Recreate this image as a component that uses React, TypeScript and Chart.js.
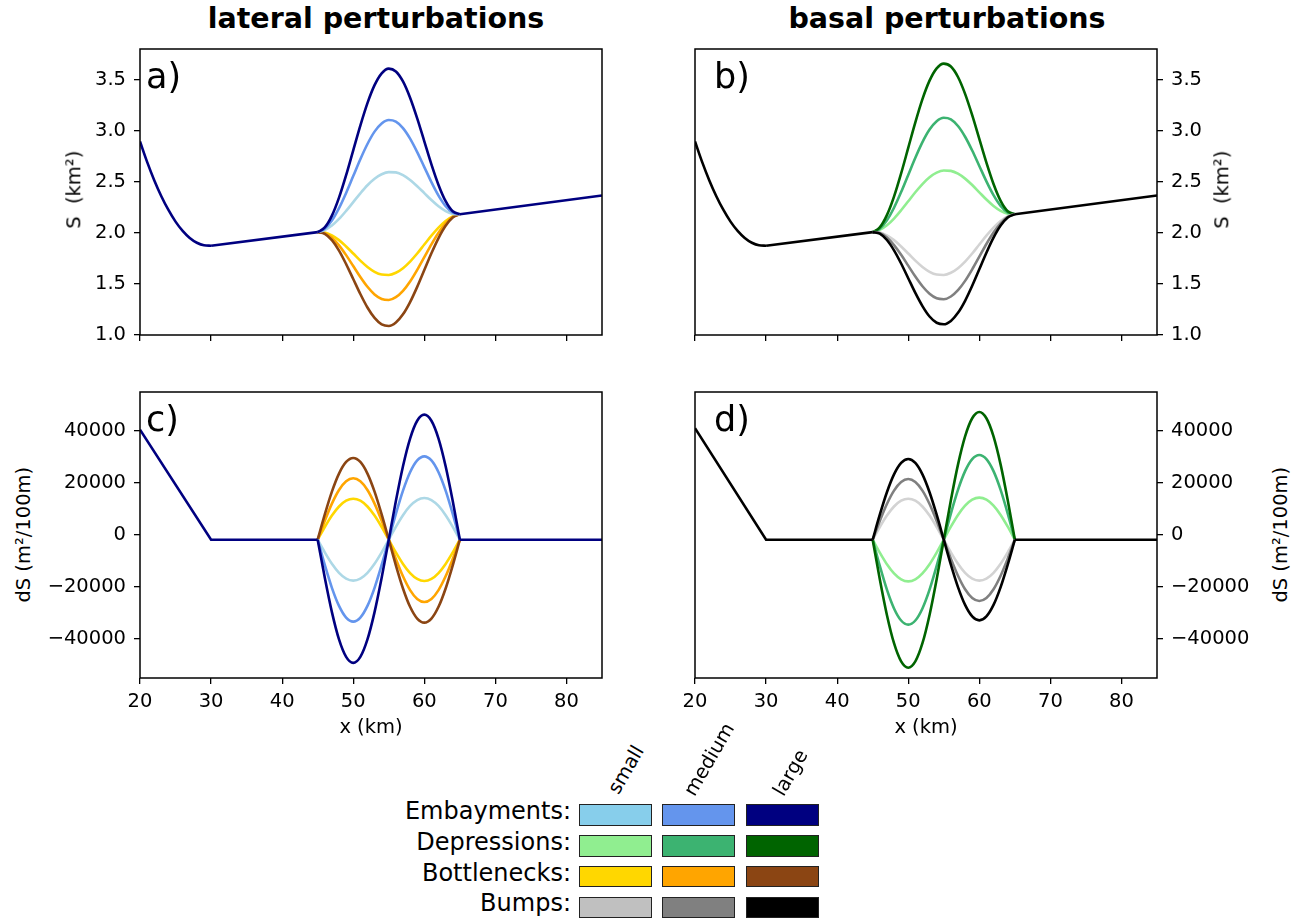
import { useEffect, useRef } from 'react'
import { Chart, registerables, type ChartConfiguration, type Plugin } from 'chart.js'

Chart.register(...registerables)
Chart.defaults.font.family = 'DejaVu Sans'
Chart.defaults.color = '#000'

// x grid (km)
const xLeft = [20, 21, 22, 23, 24, 25, 26, 27, 28, 29, 30]
const xFlat = [30, 45]
const xBell = [45, 46, 47, 48, 49, 50, 51, 52, 53, 54, 55, 56, 57, 58, 59, 60, 61, 62, 63, 64, 65]
const xRight = [65, 85]
const xDsLeft = [20, 30, 45]

// tick values
const xTicks = [20, 30, 40, 50, 60, 70, 80]
const sTicks = [1.0, 1.5, 2.0, 2.5, 3.0, 3.5]
const dsTicks = [-40000, -20000, 0, 20000, 40000]

// S (km2), shared unperturbed profile
const sLeft = [2.895, 2.695, 2.516, 2.359, 2.224, 2.110, 2.019, 1.950, 1.903, 1.878, 1.874]
const sFlat = [1.874, 2.007]
const sRight = [2.183, 2.366]

// S, lateral perturbations
const sEmbSmall = [2.007, 2.028, 2.072, 2.136, 2.215, 2.301, 2.387, 2.466, 2.530, 2.574, 2.595, 2.592, 2.565, 2.518, 2.457, 2.389, 2.321, 2.260, 2.213, 2.186, 2.183]
const sEmbMedium = [2.007, 2.041, 2.121, 2.242, 2.391, 2.556, 2.721, 2.870, 2.991, 3.071, 3.105, 3.089, 3.026, 2.923, 2.791, 2.644, 2.497, 2.365, 2.262, 2.199, 2.183]
const sEmbLarge = [2.007, 2.053, 2.169, 2.345, 2.565, 2.808, 3.050, 3.270, 3.446, 3.562, 3.608, 3.580, 3.482, 3.322, 3.120, 2.896, 2.671, 2.469, 2.310, 2.211, 2.183]
const sBotSmall = [2.007, 2.004, 1.976, 1.929, 1.867, 1.798, 1.728, 1.666, 1.619, 1.592, 1.588, 1.609, 1.654, 1.719, 1.798, 1.886, 1.973, 2.052, 2.117, 2.162, 2.183]
const sBotMedium = [2.007, 1.997, 1.953, 1.878, 1.782, 1.675, 1.568, 1.472, 1.397, 1.353, 1.343, 1.370, 1.432, 1.524, 1.638, 1.763, 1.888, 2.002, 2.094, 2.156, 2.183]
const sBotLarge = [2.007, 1.991, 1.928, 1.826, 1.694, 1.548, 1.401, 1.269, 1.167, 1.104, 1.088, 1.122, 1.202, 1.322, 1.471, 1.636, 1.800, 1.949, 2.069, 2.150, 2.183]

// S, basal perturbations
const sDepSmall = [2.007, 2.029, 2.074, 2.140, 2.221, 2.309, 2.398, 2.478, 2.544, 2.590, 2.611, 2.607, 2.579, 2.531, 2.468, 2.397, 2.326, 2.263, 2.215, 2.187, 2.183]
const sDepMedium = [2.007, 2.041, 2.123, 2.246, 2.399, 2.567, 2.735, 2.888, 3.011, 3.093, 3.127, 3.111, 3.046, 2.941, 2.806, 2.655, 2.504, 2.369, 2.264, 2.199, 2.183]
const sDepLarge = [2.007, 2.054, 2.174, 2.355, 2.582, 2.832, 3.082, 3.309, 3.490, 3.610, 3.657, 3.628, 3.526, 3.361, 3.152, 2.920, 2.688, 2.479, 2.314, 2.212, 2.183]
const sBumpSmall = [2.007, 2.004, 1.976, 1.929, 1.867, 1.798, 1.728, 1.666, 1.619, 1.592, 1.588, 1.609, 1.654, 1.719, 1.798, 1.886, 1.973, 2.052, 2.117, 2.162, 2.183]
const sBumpMedium = [2.007, 1.998, 1.954, 1.880, 1.785, 1.679, 1.572, 1.477, 1.404, 1.359, 1.350, 1.377, 1.439, 1.530, 1.643, 1.767, 1.891, 2.003, 2.094, 2.156, 2.183]
const sBumpLarge = [2.007, 1.992, 1.930, 1.829, 1.700, 1.556, 1.412, 1.283, 1.181, 1.120, 1.105, 1.138, 1.217, 1.335, 1.482, 1.644, 1.806, 1.953, 2.071, 2.150, 2.183]

// dS (m2/100m), shared unperturbed profile
const dsLeftLat = [40500, -1800, -1800]
const dsLeftBas = [41100, -1800, -1800]
const dsRight = [-1800, -1800]

// dS, lateral perturbations
const dsEmbSmall = [-1800, -6670, -11060, -14550, -16790, -17560, -16790, -14550, -11060, -6670, -1800, 3150, 7620, 11170, 13450, 14230, 13450, 11170, 7620, 3150, -1800]
const dsEmbMedium = [-1800, -11530, -20320, -27280, -31760, -33300, -31760, -27280, -20320, -11530, -1800, 8100, 17040, 24130, 28680, 30250, 28680, 24130, 17040, 8100, -1800]
const dsEmbLarge = [-1800, -16450, -29660, -40150, -46880, -49200, -46880, -40150, -29660, -16450, -1800, 13060, 26470, 37110, 43950, 46300, 43950, 37110, 26470, 13060, -1800]
const dsBotSmall = [-1800, 3070, 7470, 10960, 13200, 13970, 13200, 10960, 7470, 3070, -1800, -6710, -11140, -14660, -16910, -17690, -16910, -14660, -11140, -6710, -1800]
const dsBotMedium = [-1800, 5490, 12070, 17290, 20650, 21800, 20650, 17290, 12070, 5490, -1800, -9210, -15890, -21190, -24600, -25770, -24600, -21190, -15890, -9210, -1800]
const dsBotLarge = [-1800, 7910, 16670, 23620, 28080, 29620, 28080, 23620, 16670, 7910, -1800, -11660, -20560, -27620, -32160, -33720, -32160, -27620, -20560, -11660, -1800]

// dS, basal perturbations
const dsDepSmall = [-1800, -6750, -11220, -14760, -17040, -17820, -17040, -14760, -11220, -6750, -1800, 3190, 7700, 11270, 13570, 14360, 13570, 11270, 7700, 3190, -1800]
const dsDepMedium = [-1800, -11900, -21020, -28250, -32890, -34490, -32890, -28250, -21020, -11900, -1800, 8260, 17350, 24550, 29180, 30770, 29180, 24550, 17350, 8260, -1800]
const dsDepLarge = [-1800, -17010, -30740, -41630, -48620, -51030, -48620, -41630, -30740, -17010, -1800, 13380, 27070, 37930, 44910, 47310, 44910, 37930, 27070, 13380, -1800]
const dsBumpSmall = [-1800, 3070, 7470, 10960, 13200, 13970, 13200, 10960, 7470, 3070, -1800, -6670, -11060, -14550, -16790, -17560, -16790, -14550, -11060, -6670, -1800]
const dsBumpMedium = [-1800, 5410, 11920, 17080, 20400, 21540, 20400, 17080, 11920, 5410, -1800, -9090, -15670, -20880, -24240, -25390, -24240, -20880, -15670, -9090, -1800]
const dsBumpLarge = [-1800, 7790, 16440, 23300, 27710, 29230, 27710, 23300, 16440, 7790, -1800, -11390, -20040, -26900, -31310, -32830, -31310, -26900, -20040, -11390, -1800]

// legend
const legendRows = ['Embayments:', 'Depressions:', 'Bottlenecks:', 'Bumps:']
const sizeLabels = ['small', 'medium', 'large']
const legendColors = [
  ['#87ceeb', '#6495ed', '#000080'],
  ['#90ee90', '#3cb371', '#006400'],
  ['#ffd700', '#ffa500', '#8b4513'],
  ['#c0c0c0', '#808080', '#000000'],
]

const FONT = '"DejaVu Sans", sans-serif'

const framePlugin: Plugin = {
  id: 'frame',
  afterDraw(chart) {
    const { ctx, chartArea: a } = chart
    ctx.save()
    ctx.strokeStyle = '#000'
    ctx.lineWidth = 1.5
    ctx.strokeRect(a.left, a.top, a.right - a.left, a.bottom - a.top)
    ctx.restore()
  },
}

function line(xs: number[], ys: number[], color: string, smooth: boolean) {
  return {
    data: xs.map((x, i) => ({ x, y: ys[i] })),
    borderColor: color,
    borderWidth: 2.6,
    pointRadius: 0,
    fill: false,
    tension: 0,
    cubicInterpolationMode: smooth ? 'monotone' : 'default',
  }
}

// the unperturbed profile of a panel, drawn on top of the perturbed curves
function baseS(color: string) {
  return [line(xLeft, sLeft, color, true), line(xFlat, sFlat, color, false), line(xRight, sRight, color, false)]
}

function baseDs(left: number[], color: string) {
  return [line(xDsLeft, left, color, false), line(xRight, dsRight, color, false)]
}

function fmtS(v: number | string) {
  return Number(v).toFixed(1)
}

function fmtDs(v: number | string) {
  const n = Number(v)
  return n < 0 ? '\u2212' + Math.abs(n) : String(n)
}

interface PanelSpec {
  side: 'left' | 'right'
  showX: boolean
  yMin: number
  yMax: number
  yTicks: number[]
  fmt: (v: number | string) => string
  datasets: any[]
}

function buildConfig(p: PanelSpec): ChartConfiguration<'line'> {
  const tickGrid = {
    drawOnChartArea: false,
    drawTicks: true,
    tickLength: 6,
    color: '#000',
    tickColor: '#000',
    lineWidth: 1.3,
    tickWidth: 1.3,
  }
  return {
    type: 'line',
    data: { datasets: p.datasets },
    plugins: [framePlugin],
    options: {
      responsive: true,
      maintainAspectRatio: false,
      animation: false,
      events: [],
      layout: {
        padding: p.side === 'left' ? { top: 4, right: 4, left: 0, bottom: 0 } : { top: 4, left: 24, right: 0, bottom: 0 },
      },
      plugins: { legend: { display: false }, tooltip: { enabled: false } },
      scales: {
        x: {
          type: 'linear',
          min: 20,
          max: 85,
          grid: tickGrid,
          border: { display: false },
          afterBuildTicks: (s: any) => { s.ticks = xTicks.map((value) => ({ value })) },
          ticks: {
            display: p.showX,
            maxRotation: 0,
            autoSkip: false,
            padding: 6,
            color: '#000',
            font: { size: 19.5 },
          },
          afterFit: (s: any) => { s.height = 40; s.paddingLeft = 0; s.paddingRight = 0 },
        },
        y: {
          type: 'linear',
          position: p.side,
          min: p.yMin,
          max: p.yMax,
          grid: tickGrid,
          border: { display: false },
          afterBuildTicks: (s: any) => { s.ticks = p.yTicks.map((value) => ({ value })) },
          ticks: {
            padding: 8,
            autoSkip: false,
            color: '#000',
            font: { size: 19.5 },
            callback: (v: any) => p.fmt(v),
          },
          afterFit: (s: any) => { s.width = 100; s.paddingTop = 0; s.paddingBottom = 0 },
        },
      },
    },
  } as ChartConfiguration<'line'>
}

const panels: { left: number; top: number; width: number; spec: PanelSpec }[] = [
  {
    left: 40, top: 45, width: 566,
    spec: {
      side: 'left', showX: false, yMin: 1.0, yMax: 3.8, yTicks: sTicks, fmt: fmtS,
      datasets: [
        ...baseS('#000080'),
        line(xBell, sEmbLarge, '#000080', true),
        line(xBell, sEmbMedium, '#6495ed', true),
        line(xBell, sEmbSmall, '#add8e6', true),
        line(xBell, sBotLarge, '#8b4513', true),
        line(xBell, sBotMedium, '#ffa500', true),
        line(xBell, sBotSmall, '#ffd700', true),
      ],
    },
  },
  {
    left: 671, top: 45, width: 586,
    spec: {
      side: 'right', showX: false, yMin: 1.0, yMax: 3.8, yTicks: sTicks, fmt: fmtS,
      datasets: [
        ...baseS('#000000'),
        line(xBell, sBumpLarge, '#000000', true),
        line(xBell, sBumpMedium, '#808080', true),
        line(xBell, sBumpSmall, '#d3d3d3', true),
        line(xBell, sDepLarge, '#006400', true),
        line(xBell, sDepMedium, '#3cb371', true),
        line(xBell, sDepSmall, '#90ee90', true),
      ],
    },
  },
  {
    left: 40, top: 388, width: 566,
    spec: {
      side: 'left', showX: true, yMin: -55000, yMax: 55000, yTicks: dsTicks, fmt: fmtDs,
      datasets: [
        ...baseDs(dsLeftLat, '#000080'),
        line(xBell, dsEmbLarge, '#000080', true),
        line(xBell, dsEmbMedium, '#6495ed', true),
        line(xBell, dsEmbSmall, '#add8e6', true),
        line(xBell, dsBotLarge, '#8b4513', true),
        line(xBell, dsBotMedium, '#ffa500', true),
        line(xBell, dsBotSmall, '#ffd700', true),
      ],
    },
  },
  {
    left: 671, top: 388, width: 586,
    spec: {
      side: 'right', showX: true, yMin: -55000, yMax: 55000, yTicks: dsTicks, fmt: fmtDs,
      datasets: [
        ...baseDs(dsLeftBas, '#000000'),
        line(xBell, dsBumpLarge, '#000000', true),
        line(xBell, dsBumpMedium, '#808080', true),
        line(xBell, dsBumpSmall, '#d3d3d3', true),
        line(xBell, dsDepLarge, '#006400', true),
        line(xBell, dsDepMedium, '#3cb371', true),
        line(xBell, dsDepSmall, '#90ee90', true),
      ],
    },
  },
]

function Panel({ left, top, width, spec }: { left: number; top: number; width: number; spec: PanelSpec }) {
  const canvasRef = useRef<HTMLCanvasElement>(null)
  useEffect(() => {
    if (!canvasRef.current) return
    const chart = new Chart(canvasRef.current, buildConfig(spec))
    return () => chart.destroy()
  }, [spec])
  return (
    <div style={{ position: 'absolute', left, top, width, height: 330 }}>
      <canvas ref={canvasRef} />
    </div>
  )
}

function Label({ text, x, y, size = 19.5, bold = false }: { text: string; x: number; y: number; size?: number; bold?: boolean }) {
  return (
    <div style={{
      position: 'absolute', left: x - 200, top: y - size * 0.6, width: 400, textAlign: 'center',
      fontFamily: FONT, fontSize: size, lineHeight: `${size * 1.2}px`, fontWeight: bold ? 'bold' : 'normal',
      whiteSpace: 'pre',
    }}>{text}</div>
  )
}

function VLabel({ text, x, y }: { text: string; x: number; y: number }) {
  return (
    <div style={{
      position: 'absolute', left: x - 150, top: y - 11.7, width: 300, height: 23.4, textAlign: 'center',
      fontFamily: FONT, fontSize: 19.5, lineHeight: '23.4px', whiteSpace: 'pre',
      transform: 'rotate(-90deg)', transformOrigin: '50% 50%',
    }}>{text}</div>
  )
}

function Letter({ text, x, baseline }: { text: string; x: number; baseline: number }) {
  return (
    <div style={{
      position: 'absolute', left: x, top: baseline - 29.6, fontFamily: FONT, fontSize: 35, lineHeight: '35px',
    }}>{text}</div>
  )
}

const boxLefts = [579, 662, 745.5]
const rowTops = [804.3, 835.1, 865.9, 896.7]
const sizeOrigins = [[619, 795], [695, 797], [784, 797]]

function Legend() {
  return (
    <>
      {sizeLabels.map((s, i) => (
        <div key={s} style={{
          position: 'absolute', left: sizeOrigins[i][0], top: sizeOrigins[i][1] - 16.5,
          fontFamily: FONT, fontSize: 19.5, lineHeight: '19.5px', whiteSpace: 'nowrap',
          transform: 'rotate(-60deg)', transformOrigin: '0px 16.5px',
        }}>{s}</div>
      ))}
      {legendRows.map((r, ri) => (
        <div key={r}>
          <div style={{
            position: 'absolute', left: 371, width: 200, top: rowTops[ri] + 15 - 20.3, textAlign: 'right',
            fontFamily: FONT, fontSize: 24, lineHeight: '24px', whiteSpace: 'nowrap',
          }}>{r}</div>
          {legendColors[ri].map((c, ci) => (
            <div key={ci} style={{
              position: 'absolute', left: boxLefts[ci], top: rowTops[ri], width: 73, height: 21.5,
              background: c, border: '1px solid #222', boxSizing: 'border-box',
            }} />
          ))}
        </div>
      ))}
    </>
  )
}

export default function App() {
  return (
    <div style={{ position: 'fixed', left: 0, top: 0, width: 1300, height: 921, background: '#fff', overflow: 'hidden' }}>
      {panels.map((p, i) => <Panel key={i} left={p.left} top={p.top} width={p.width} spec={p.spec} />)}
      <Label text="lateral perturbations" x={376} y={19} size={28.5} bold />
      <Label text="basal perturbations" x={947} y={19} size={28.5} bold />
      <Letter text="a)" x={146} baseline={89} />
      <Letter text="b)" x={714} baseline={88.5} />
      <Letter text="c)" x={146} baseline={432} />
      <Letter text="d)" x={714} baseline={432} />
      <VLabel text={'S  (km\u00b2)'} x={74} y={190} />
      <VLabel text={'S  (km\u00b2)'} x={1222} y={190} />
      <VLabel text={'dS (m\u00b2/100m)'} x={24} y={535} />
      <VLabel text={'dS (m\u00b2/100m)'} x={1281} y={535} />
      <Label text="x (km)" x={371} y={727} />
      <Label text="x (km)" x={926} y={727} />
      <Legend />
    </div>
  )
}
